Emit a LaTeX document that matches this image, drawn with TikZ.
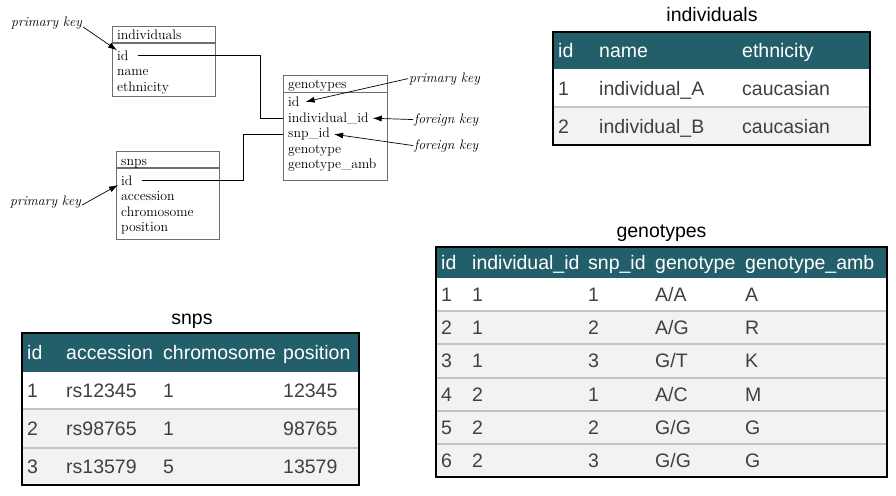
\documentclass[tikz,border=0pt]{standalone}
\usepackage{fontspec}
\newfontfamily\tabfont{Liberation Sans}
\usetikzlibrary{arrows.meta,calc}
\definecolor{headteal}{HTML}{235F6B}
\definecolor{rowgray}{HTML}{F2F2F2}
\definecolor{rulegray}{HTML}{C4C4C4}
\definecolor{boxgray}{HTML}{6E6E6E}
\definecolor{celltext}{HTML}{404040}
\tikzset{erbox/.style={draw=boxgray, line width=1.1pt, rectangle, anchor=north west, inner sep=0pt},
  erfield/.style={anchor=base west, inner sep=0pt, font=\fontsize{13.8}{15}\selectfont},
  keylabel/.style={anchor=base west, inner sep=1pt, font=\fontsize{13.8}{15}\selectfont\itshape},
  keyarrow/.style={-{Latex[length=9pt,width=6pt]}, line width=0.7pt},
  link/.style={line width=0.8pt},
  tabtitle/.style={anchor=base, inner sep=0pt, font=\tabfont\fontsize{19.5}{21}\selectfont},
  tabframe/.style={draw=black, line width=1.3pt},
  rowrule/.style={draw=rulegray, line width=2pt},
  headcell/.style={anchor=base west, inner sep=0pt, text=white, font=\tabfont\fontsize{19.5}{21}\selectfont},
  cell/.style={anchor=base west, inner sep=0pt, text=celltext, font=\tabfont\fontsize{19.5}{21}\selectfont}}

\begin{document}
\begin{tikzpicture}[x=1pt,y=-1pt]
   \useasboundingbox (0,0) rectangle (896,495);
   % schema
   \node[erbox, minimum width=103pt, minimum height=70pt] (indbox) at (112,26) {};
   \draw[erbox] ($(indbox.north west)+(0,17)$) -- ($(indbox.north east)+(0,17)$);
   \node[erfield] (ind-head) at (117,40) {individuals};
   \foreach \n/\t [count=\i] in {id/id,name/name,eth/ethnicity}
     \node[erfield] (ind-\n) at (117,44.5+15.5*\i) {\t};

   \node[erbox, minimum width=104pt, minimum height=104.5pt] (genbox) at (283,75) {};
   \draw[erbox] ($(genbox.north west)+(0,17.5)$) -- ($(genbox.north east)+(0,17.5)$);
   \node[erfield] (gen-head) at (288,88.5) {genotypes};
   \foreach \n/\t [count=\i] in {id/id,indid/individual\_id,snpid/snp\_id,geno/genotype,amb/genotype\_amb}
     \node[erfield] (gen-\n) at (288,90.9+15.6*\i) {\t};

   \node[erbox, minimum width=103pt, minimum height=88pt] (snpbox) at (116,151) {};
   \draw[erbox] ($(snpbox.north west)+(0,17)$) -- ($(snpbox.north east)+(0,17)$);
   \node[erfield] (snp-head) at (121,165) {snps};
   \foreach \n/\t [count=\i] in {id/id,acc/accession,chr/chromosome,pos/position}
     \node[erfield] (snp-\n) at (121,169.5+15.5*\i) {\t};

   \coordinate (indbend) at (260,0);
   \coordinate (snpbend) at (243,0);
   \draw[link] ($(ind-id.east)+(9,0)$) -- (ind-id.east -| indbend) |- (gen-indid.west -| genbox.west);
   \draw[link] (gen-snpid.west -| genbox.west) -| (snpbend |- snp-id.east) -- ($(snp-id.east)+(9,0)$);

   \node[keylabel] (pk-ind) at (10,27) {primary key};
   \node[keylabel] (pk-gen) at (408,82) {primary key};
   \node[keylabel] (fk-ind) at (413,123) {foreign key};
   \node[keylabel] (fk-snp) at (413,149) {foreign key};
   \node[keylabel] (pk-snp) at (9,205) {primary key};
   \draw[keyarrow] (pk-ind.base east) -- (ind-id.north west);
   \draw[keyarrow] (pk-gen.west) -- ($(gen-id.east)+(6,0)$);
   \draw[keyarrow] (fk-ind.west) -- ($(gen-indid.east)+(4,0)$);
   \draw[keyarrow] (fk-snp.west) -- ($(gen-snpid.east)+(4,0)$);
   \draw[keyarrow] (pk-snp.base east) -- ($(snp-id.base west)+(-3,0)$);

   % individuals table
   \node[tabtitle] (indtitle) at (712,22) {individuals};
   \fill[headteal] (553,32) rectangle (870,69);
   \fill[rowgray] (553,107) rectangle (870,145);
   \draw[rowrule] (553,107) -- (870,107);
   \draw[tabframe] (553,32) rectangle (870,145);
   \foreach \x/\t [count=\c] in {558/id,599/name,742/ethnicity}
     \node[headcell] (indh-\c) at (\x,57.5) {\t};
   \foreach \y/\i/\n [count=\r] in {95/1/individual\_A,133/2/individual\_B} {
     \node[cell] (ind\r-id) at (558,\y) {\i};
     \node[cell] (ind\r-name) at (599,\y) {\n};
     \node[cell] (ind\r-eth) at (742,\y) {caucasian};
   }

   % genotypes table
   \node[tabtitle] (gentitle) at (661.5,237) {genotypes};
   \fill[headteal] (436,247) rectangle (887,278);
   \fill[rowgray] (436,311.17) rectangle (887,477);
   \foreach \r in {1,...,5}
     \draw[rowrule] (436,{278+33.17*\r}) -- (887,{278+33.17*\r});
   \draw[tabframe] (436,247) rectangle (887,477);
   \foreach \x/\t [count=\c] in {441/id,472/individual\_id,588/snp\_id,655/genotype,745/genotype\_amb}
     \node[headcell] (genh-\c) at (\x,269.5) {\t};
   \foreach \i/\p/\s/\g/\m [count=\r] in {1/1/1/{A/A}/A,2/1/2/{A/G}/R,3/1/3/{G/T}/K,4/2/1/{A/C}/M,5/2/2/{G/G}/G,6/2/3/{G/G}/G} {
     \pgfmathsetmacro\yb{278+33.17*(\r-0.5)+7}
     \node[cell] (gen\r-id) at (441,\yb) {\i};
     \node[cell] (gen\r-ind) at (472,\yb) {\p};
     \node[cell] (gen\r-snp) at (588,\yb) {\s};
     \node[cell] (gen\r-geno) at (655,\yb) {\g};
     \node[cell] (gen\r-amb) at (745,\yb) {\m};
   }

   % snps table
   \node[tabtitle] (snptitle) at (192,324) {snps};
   \fill[headteal] (22,333) rectangle (359,372);
   \fill[rowgray] (22,409) rectangle (359,485);
   \draw[rowrule] (22,409) -- (359,409);
   \draw[rowrule] (22,448) -- (359,448);
   \draw[tabframe] (22,333) rectangle (359,485);
   \foreach \x/\t [count=\c] in {27/id,66/accession,163/chromosome,283/position}
     \node[headcell] (snph-\c) at (\x,359.5) {\t};
   \foreach \y/\i/\a/\h/\p [count=\r] in {397.5/1/rs12345/1/12345,435.5/2/rs98765/1/98765,473.5/3/rs13579/5/13579} {
     \node[cell] (snp\r-id) at (27,\y) {\i};
     \node[cell] (snp\r-acc) at (66,\y) {\a};
     \node[cell] (snp\r-chr) at (163,\y) {\h};
     \node[cell] (snp\r-pos) at (283,\y) {\p};
   }
\end{tikzpicture}
\end{document}
